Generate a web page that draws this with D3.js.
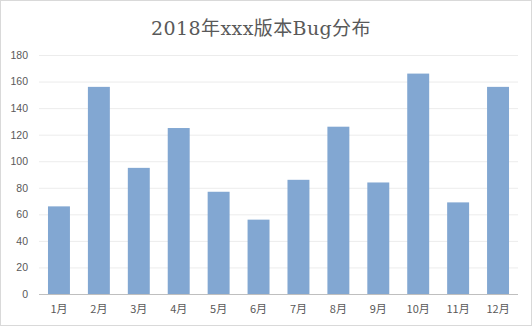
<!DOCTYPE html>
<html><head><meta charset="utf-8">
<script src="https://cdn.jsdelivr.net/npm/d3@7"></script>
<style>html,body{margin:0;padding:0;background:#fff;}svg{display:block;}</style>
</head><body>
<svg id="c" width="532" height="326"></svg>
<script>
const categories = ["1月","2月","3月","4月","5月","6月","7月","8月","9月","10月","11月","12月"];
const bugCounts = [66,156,95,125,77,56,86,126,84,166,69,156];
const yTicks = [0,20,40,60,80,100,120,140,160,180];
const title = "2018年xxx版本Bug分布";

const svg = d3.select("#c");
const W = 532, H = 326;
const mL = 39, mR = 518, mT = 55, mB = 294;

svg.append("rect").attr("x",0.5).attr("y",0.5).attr("width",W-1).attr("height",H-1)
  .attr("fill","#fff").attr("stroke","#d9d9d9");

const x = d3.scaleBand().domain(categories).range([mL,mR]).paddingInner(0.45).paddingOuter(0.225);
const y = d3.scaleLinear().domain([0,180]).range([mB,mT]);

// gridlines
const grid = d3.axisLeft(y).tickValues(yTicks.slice(1)).tickSize(-(mR-mL)).tickFormat("");
svg.append("g").attr("transform",`translate(${mL},0)`).call(grid)
  .call(g=>g.select(".domain").remove())
  .call(g=>g.selectAll("line").attr("stroke","#ececec").attr("stroke-width",1));

// y axis labels
const ya = d3.axisLeft(y).tickValues(yTicks).tickSize(0).tickPadding(11);
svg.append("g").attr("transform",`translate(${mL},0)`).call(ya)
  .call(g=>g.select(".domain").remove())
  .call(g=>g.selectAll("text").attr("fill","#595959").attr("font-size","10.5px")
    .attr("font-family","'Liberation Sans','Noto Sans CJK SC',sans-serif"));

// bars
svg.append("g").selectAll("rect").data(bugCounts).join("rect")
  .attr("x",(d,i)=>x(categories[i]))
  .attr("width",x.bandwidth())
  .attr("y",d=>y(d))
  .attr("height",d=>y(0)-y(d))
  .attr("fill","#82a7d2");

// x axis
const xa = d3.axisBottom(x).tickSize(0).tickPadding(11);
svg.append("g").attr("transform",`translate(0,${mB})`).call(xa)
  .call(g=>g.select(".domain").attr("stroke","#bfbfbf").attr("d",`M${mL},0.5H${mR}`))
  .call(g=>g.selectAll("text").attr("fill","#595959").attr("font-size","11px")
    .attr("font-family","'Noto Sans CJK SC','Liberation Sans',sans-serif"));

svg.append("text").attr("x",261).attr("y",35).attr("text-anchor","middle")
  .attr("fill","#595959").attr("font-size","19px").attr("letter-spacing","0.4px")
  .attr("font-family","'DejaVu Serif','Liberation Serif','Noto Sans CJK SC',serif")
  .text(title);
</script>
</body></html>
